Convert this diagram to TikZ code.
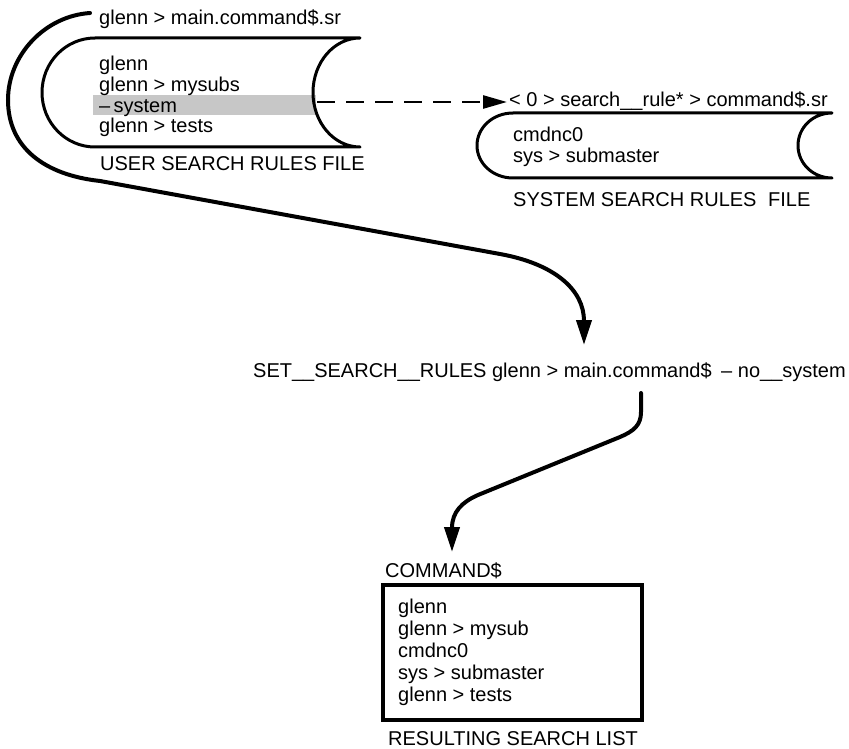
\documentclass[tikz,border=0pt]{standalone}
\usepackage{fontspec}
\setmainfont{Liberation Sans}
\usetikzlibrary{arrows.meta}
\begin{document}
\begin{tikzpicture}[x=1pt,y=-1pt,
  txt/.style={anchor=base west,inner sep=0pt,font=\fontsize{20}{20}\selectfont},
  fileshape/.style={line width=3pt,line join=round},
  flow/.style={line width=4pt,line cap=round,-{Triangle[length=25pt,width=15pt]}},
  dasharrow/.style={line width=2.6pt,dash pattern=on 18pt off 11pt,-{Triangle[length=24pt,width=13pt]}}]
\useasboundingbox (0,0) rectangle (849,749);
% highlight band
\fill[black!22] (93,95) rectangle (316,115);
% user search rules file
\draw[fileshape] (360,38) -- (95,38) .. controls (65.7,38) and (42,62.4) .. (42,92.5)
  .. controls (42,122.6) and (65.7,147) .. (95,147) -- (360,147)
  .. controls (334,147) and (313,122.6) .. (313,92.5)
  .. controls (313,62.4) and (334,38) .. (360,38) -- cycle;
% system search rules file
\draw[fileshape] (832,113) -- (513,113) .. controls (493,113) and (477,127.5) .. (477,145.5)
  .. controls (477,163.5) and (493,178) .. (513,178) -- (832,178)
  .. controls (813,178) and (798,163.5) .. (798,145.5)
  .. controls (798,127.5) and (813,113) .. (832,113) -- cycle;
% result box
\draw[line width=3.2pt] (383,585) rectangle (642,720);
% texts
\node[txt] (uhead) at (99,25) {glenn > main.command\$.sr};
\node[txt] (u1) at (99,71) {glenn};
\node[txt] (u2) at (99,92) {glenn > mysubs};
\node[txt] (u3) at (99,112.5) {–\,system};
\node[txt] (u4) at (99,133) {glenn > tests};
\node[txt] (ulab) at (100,171) {USER SEARCH RULES FILE};
\node[txt] (shead) at (509,107) {< 0 > search\_\_rule* > command\$.sr};
\node[txt] (s1) at (513,142) {cmdnc0};
\node[txt] (s2) at (513,163) {sys > submaster};
\node[txt] (slab) at (513,207) {SYSTEM SEARCH RULES\hspace{6pt} FILE};
\node[txt,anchor=base east] (cmd) at (846,377) {SET\_\_SEARCH\_\_RULES glenn > main.command\$\hspace{4pt} – no\_\_system};
\node[txt] (rhead) at (385,577) {COMMAND\$};
\node[txt] (r1) at (398,613) {glenn};
\node[txt] (r2) at (398,635) {glenn > mysub};
\node[txt] (r3) at (398,657) {cmdnc0};
\node[txt] (r4) at (398,679) {sys > submaster};
\node[txt] (r5) at (398,701) {glenn > tests};
\node[txt] (rlab) at (388,745) {RESULTING SEARCH LIST};
% connector coordinates
\coordinate (bstart) at (90,13);
\coordinate (cmdin) at (584,345);
\coordinate (cmdout) at (641,393);
\coordinate (resin) at (452,552);
\coordinate (sysref) at (317,102);
\coordinate (shin) at (507,102);
% connectors
\draw[flow] (bstart) .. controls (45,16) and (8,55) .. (8,100)
  .. controls (8,148) and (45,175) .. (100,181) -- (500,254)
  .. controls (555,264) and (584,290) .. (cmdin);
\draw[flow] (cmdout) -- (641,412) .. controls (641,425) and (634,431) .. (620,437)
  -- (478,495) .. controls (462,502) and (452,512) .. (resin);
\draw[dasharrow] (sysref) -- (shin);
\end{tikzpicture}
\end{document}
